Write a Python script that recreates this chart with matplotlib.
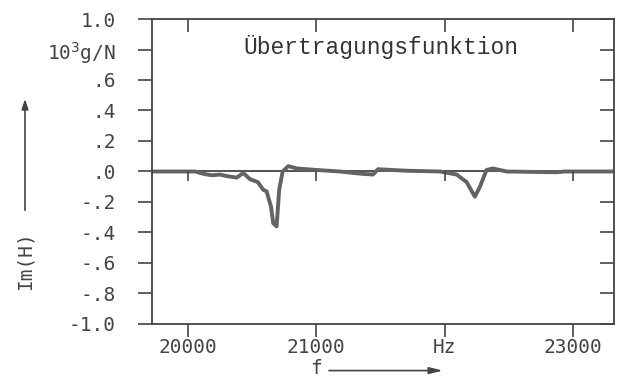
import numpy as np
import matplotlib
matplotlib.use("Agg")
import matplotlib.pyplot as plt
from matplotlib.transforms import blended_transform_factory

# frequency in Hz and imaginary part of H in 10^3 g/N
freq = [19720, 20000, 20055, 20120, 20185, 20250, 20300, 20380, 20431, 20483,
        20545, 20587, 20613, 20647, 20665, 20691, 20711, 20738, 20782, 20847,
        21003, 21184, 21353, 21442, 21481, 21704, 21964, 22094, 22172, 22236,
        22275, 22327, 22377, 22483, 22873, 22938, 23320]
im_h = [0.0, 0.0, 0.0, -0.015, -0.025, -0.02, -0.03, -0.04, -0.01, -0.05,
        -0.07, -0.12, -0.13, -0.23, -0.34, -0.36, -0.12, 0.0, 0.035, 0.02,
        0.01, 0.0, -0.015, -0.02, 0.015, 0.005, 0.0, -0.02, -0.07, -0.165,
        -0.10, 0.01, 0.02, 0.0, -0.005, 0.0, 0.0]

yticks = [-1.0, -0.8, -0.6, -0.4, -0.2, 0.0, 0.2, 0.4, 0.6, 0.8, 1.0]
ytick_labels = ["-1.0", "-.8", "-.6", "-.4", "-.2", ".0", ".2", ".4", ".6",
                "10$^3$g/N", "1.0"]
xticks = [20000, 21000, 22000, 23000]
xtick_labels = ["20000", "21000", "Hz", "23000"]

ink = "#444444"
mono = "DejaVu Sans Mono"

fig = plt.figure(figsize=(6.25, 3.77), dpi=100)
ax = fig.add_axes([0.2432, 0.1406, 0.7392, 0.809])

ax.axhline(0, color=ink, lw=1.3, zorder=1)
ax.plot(freq, im_h, color="#636363", lw=2.8, solid_joinstyle="round", zorder=2)

ax.set_xlim(19720, 23320)
ax.set_ylim(-1.0, 1.0)

ax.set_yticks(yticks)
ax.set_yticklabels(ytick_labels, fontfamily=mono, fontsize=14, color=ink)
ax.set_xticks(xticks)
ax.set_xticklabels(xtick_labels, fontfamily=mono, fontsize=14, color=ink)
ax.tick_params(axis="y", direction="out", length=10, width=1.2, color=ink, pad=16)
ax.tick_params(axis="x", direction="out", length=9, width=1.2, color=ink, pad=1)
ax.tick_params(axis="y", which="major", right=True)
ax.tick_params(axis="x", which="major", top=True)
for t in ax.yaxis.get_major_ticks():
    t.tick2line.set_marker(0)  # right side ticks point inward
for t in ax.xaxis.get_major_ticks():
    t.tick2line.set_marker(3)  # top ticks point inward

for s in ax.spines.values():
    s.set_color(ink)
    s.set_linewidth(1.3)

# small ticks hanging from the zero line
trans = blended_transform_factory(ax.transData, ax.transAxes)
ax.vlines(xticks, 0.5 - 0.032, 0.5, transform=trans, color=ink, lw=1.2)

ax.text(0.197, 0.908, "Übertragungsfunktion", transform=ax.transAxes,
        fontfamily="Liberation Mono", fontsize=16.5, color="#333333",
        va="center")

# axis labels with arrows
fig.text(0.04, 0.31, "Im(H)", rotation=90, fontfamily=mono, fontsize=14,
         color=ink, ha="center", va="center")
fig.add_artist(matplotlib.patches.FancyArrowPatch(
    (0.04, 0.435), (0.04, 0.745), transform=fig.transFigure,
    arrowstyle="-|>,head_length=6,head_width=2", color=ink, lw=1.2))
fig.text(0.505, 0.022, "f", fontfamily=mono, fontsize=14, color=ink,
         ha="center", va="center")
fig.add_artist(matplotlib.patches.FancyArrowPatch(
    (0.522, 0.017), (0.713, 0.017), transform=fig.transFigure,
    arrowstyle="-|>,head_length=8,head_width=2", color=ink, lw=1.2))

fig.savefig("out.png", dpi=100)
